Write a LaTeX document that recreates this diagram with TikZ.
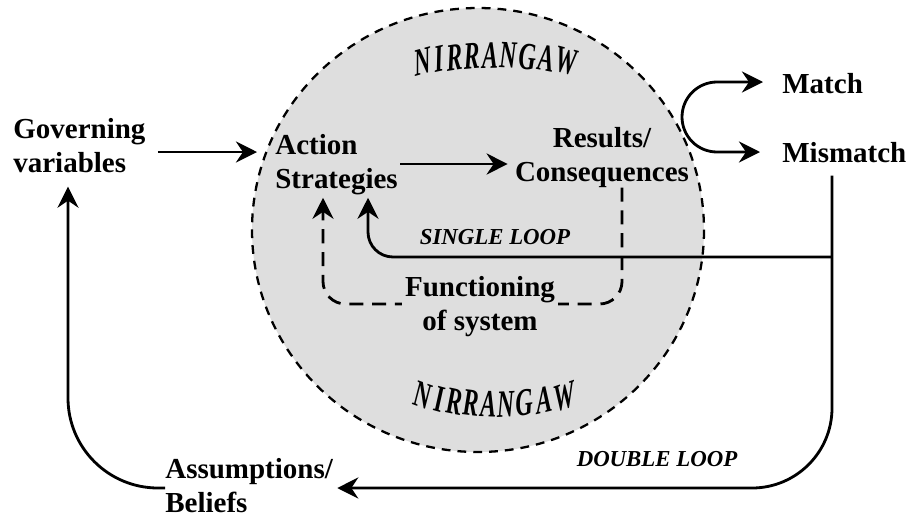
\documentclass[tikz,border=0pt]{standalone}
\usepackage{fontspec}
\setmainfont{Liberation Serif}
\usetikzlibrary{arrows.meta}
\definecolor{circfill}{gray}{0.87}

\begin{document}
\begin{tikzpicture}[x=0.02cm,y=-0.02cm,
		>={Stealth[length=12pt,width=12pt,inset=4pt]},
		txt/.style={font=\fontsize{16.5}{19.3}\selectfont\bfseries, inner sep=0pt},
		looptxt/.style={font=\fontsize{13}{15}\selectfont\bfseries\itshape, inner sep=0pt},
		nirr/.style={font=\fontsize{22}{22}\selectfont\bfseries\itshape, inner sep=0pt, anchor=base, xscale=0.62},
		arr/.style={line width=1.6pt, ->},
		dashline/.style={line width=1.6pt, dash pattern=on 8pt off 5pt, ->}]
	\useasboundingbox (0,0) rectangle (911,521);
	
	% circle
	\draw[fill=circfill, line width=1.3pt, dash pattern=on 5pt off 4pt] (478,230) ellipse[x radius=226, y radius=222];
	
	% curved labels
	\foreach \l/\px [count=\i] in {N/424,I/440,R/455,R/472,A/490,N/508,G/527,A/545,W/565}{
		\pgfmathsetmacro\py{68+0.0012*(\px-496)^2}
		\pgfmathsetmacro\rot{atan(-0.0024*(\px-496))}
		\node[nirr, rotate=\rot] (top\i) at (\px,\py) {\l};
	}
	\foreach \l/\px [count=\i] in {N/421,I/438,R/453,R/470,A/488,N/506,G/525,A/545,W/566}{
		\pgfmathsetmacro\py{417-0.0017*(\px-496)^2}
		\pgfmathsetmacro\rot{atan(0.0030*(\px-496))}
		\node[nirr, rotate=\rot] (bot\i) at (\px,\py) {\l};
	}
	
	% labels
	\node[txt, anchor=base west, align=left] (gov) at (13,172) {Governing\\variables};
	\node[txt, anchor=base west, align=left] (act) at (275,188) {Action\\Strategies};
	\node[txt, anchor=base, align=center] (res) at (602,181) {Results/\\Consequences};
	\node[txt, anchor=base west] (mat) at (782,93) {Match};
	\node[txt, anchor=base west] (mis) at (782,162) {Mismatch};
	\node[txt, anchor=base west, align=left] (ass) at (165,512) {Assumptions/\\Beliefs};
	\node[looptxt] (sgl) at (495,237) {SINGLE LOOP};
	\node[looptxt] (dbl) at (657,459) {DOUBLE LOOP};
	\coordinate (fork) at (832,257);
	
	% arrows
	\draw[arr, shorten <=12*0.02cm, shorten >=18*0.02cm] (gov.east |- 0,152) -- (act.west |- 0,152);
	\draw[arr, shorten <=2*0.02cm, shorten >=7*0.02cm] (act.east |- 0,164) -- (res.west |- 0,164);
	\draw[dashline, rounded corners=0.45cm, shorten >=3*0.02cm] (res.south -| 622,0) -- (622,304) -- (323,304) -- (act.south -| 323,0);
	\draw[arr, rounded corners=0.5cm, shorten >=3*0.02cm] (fork) -- (368,257) -- (act.south -| 368,0);
	\draw[arr, rounded corners=1.6cm, shorten <=13*0.02cm, shorten >=4*0.02cm] (mis.south -| fork) -- (832,488) -- (ass.east |- 0,488);
	\draw[arr, rounded corners=1.8cm, shorten >=14*0.02cm] (ass.west |- 0,488) -| (gov.south -| 68,0);
	\draw[line width=1.6pt, <->, rounded corners=0.7cm, shorten <=19*0.02cm, shorten >=22*0.02cm] (mat.west |- 0,82) -- (682,82) -- (682,152) -- (mis.west |- 0,152);
	
	\node[txt, anchor=base, align=center, fill=circfill, inner sep=2pt] (fun) at (480,330) {Functioning\\of system};
\end{tikzpicture}
\end{document}
